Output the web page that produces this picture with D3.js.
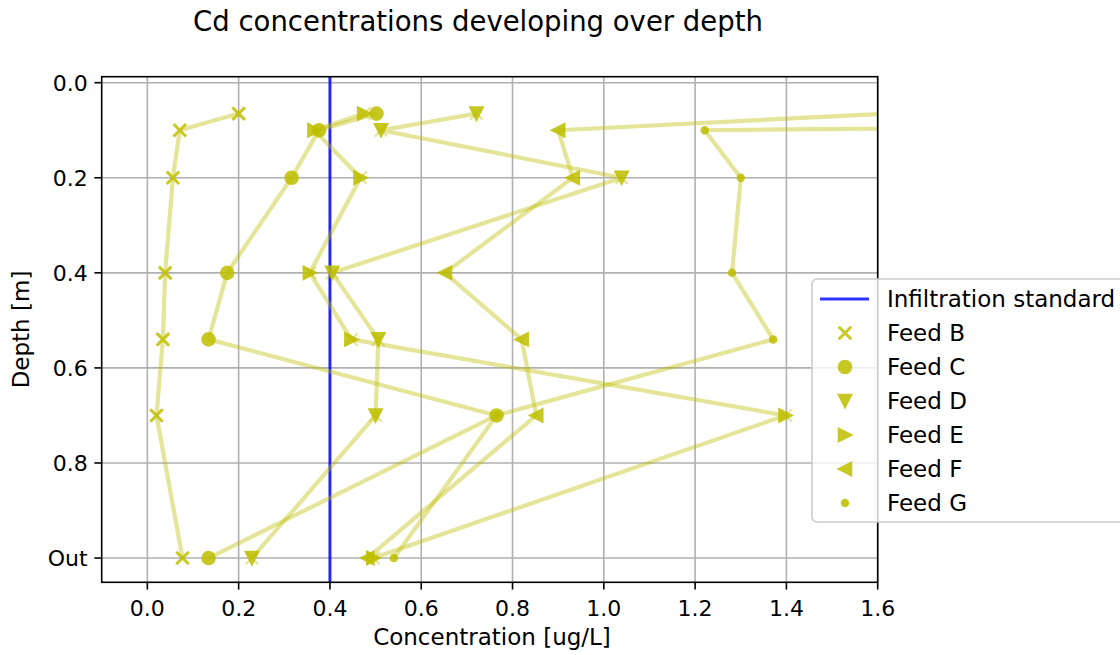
<!DOCTYPE html>
<html>
<head>
<meta charset="utf-8">
<script src="https://d3js.org/d3.v7.min.js"></script>
<style>
  body { margin: 0; background: #fff; }
  text { font-family: "DejaVu Sans", sans-serif; fill: #000; }
</style>
</head>
<body>
<div class="chart"></div>
<script>
// Cd concentration vs depth, one line per feed
var svgWidth = 1120;
var svgHeight = 655;

// depth of each sampling point (1.0 = outflow)
var depths = [0.065, 0.1, 0.2, 0.4, 0.54, 0.7, 1.0];
var feedNames = ["Feed B", "Feed C", "Feed D", "Feed E", "Feed F", "Feed G"];
var feedB = [0.200, 0.071, 0.056, 0.039, 0.034, 0.020, 0.077];
var feedC = [0.502, 0.376, 0.316, 0.175, 0.134, 0.765, 0.134];
var feedD = [0.721, 0.512, 1.039, 0.405, 0.506, 0.500, 0.229];
var feedE = [0.475, 0.366, 0.467, 0.356, 0.447, 1.398, 0.495];
var feedF = [1.620, 0.900, 0.932, 0.652, 0.820, 0.852, 0.482];
var feedG = [5.000, 1.221, 1.300, 1.281, 1.371, 0.765, 0.540];
var feedValues = [feedB, feedC, feedD, feedE, feedF, feedG];
var standard = 0.4;

var xTicks = [0, 0.2, 0.4, 0.6, 0.8, 1.0, 1.2, 1.4, 1.6];
var yTicks = [0, 0.2, 0.4, 0.6, 0.8, 1.0];
var yTickLabels = ["0.0", "0.2", "0.4", "0.6", "0.8", "Out"];

// plot box in pixels
var plotLeft = 101.7, plotRight = 877.7, plotTop = 76.7, plotBottom = 582.3;
var feedColor = "#bfbf00";
var ms = 6.25; // half marker size

var markerPaths = {
  "Feed B": "M-6.25,-6.25L6.25,6.25M-6.25,6.25L6.25,-6.25",
  "Feed C": d3.symbol().type(d3.symbolCircle).size(Math.PI * ms * ms)(),
  "Feed D": "M-6.25,-6.25L6.25,-6.25L0,6.25Z",
  "Feed E": "M-6.25,-6.25L6.25,0L-6.25,6.25Z",
  "Feed F": "M6.25,-6.25L-6.25,0L6.25,6.25Z",
  "Feed G": d3.symbol().type(d3.symbolCircle).size(Math.PI * 3.2 * 3.2)()
};
// D and E lines were drawn with x markers too
var lineHasX = {"Feed D": true, "Feed E": true};

var svg = d3.select(".chart")
  .append("svg")
  .attr("width", svgWidth)
  .attr("height", svgHeight);

var xScale = d3.scaleLinear().domain([-0.1, 1.6]).range([plotLeft, plotRight]);
var yScale = d3.scaleLinear().domain([-0.0126, 1.051]).range([plotTop, plotBottom]);

svg.append("defs").append("clipPath")
  .attr("id", "plotClip")
  .append("rect")
  .attr("x", plotLeft).attr("y", plotTop)
  .attr("width", plotRight - plotLeft).attr("height", plotBottom - plotTop);

// grid
var grid = svg.append("g");
grid.selectAll(".vgrid")
  .data(xTicks)
  .enter()
  .append("line")
  .attr("x1", function(d) { return xScale(d); })
  .attr("x2", function(d) { return xScale(d); })
  .attr("y1", plotTop).attr("y2", plotBottom)
  .attr("stroke", "#b0b0b0")
  .attr("stroke-width", 1.6);
grid.selectAll(".hgrid")
  .data(yTicks)
  .enter()
  .append("line")
  .attr("y1", function(d) { return yScale(d); })
  .attr("y2", function(d) { return yScale(d); })
  .attr("x1", plotLeft).attr("x2", plotRight)
  .attr("stroke", "#b0b0b0")
  .attr("stroke-width", 1.6);

var plot = svg.append("g").attr("clip-path", "url(#plotClip)");

// infiltration standard
plot.append("line")
  .attr("x1", xScale(standard)).attr("x2", xScale(standard))
  .attr("y1", plotTop).attr("y2", plotBottom)
  .attr("stroke", "#0000ff")
  .attr("stroke-opacity", 0.8)
  .attr("stroke-width", 3);

var line = d3.line()
  .x(function(d) { return xScale(d[0]); })
  .y(function(d) { return yScale(d[1]); });

feedNames.forEach(function(name, i) {
  var pts = feedValues[i].map(function(v, j) { return [v, depths[j]]; });
  plot.append("path")
    .attr("d", line(pts))
    .attr("fill", "none")
    .attr("stroke", feedColor)
    .attr("stroke-opacity", 0.4)
    .attr("stroke-width", 4.2)
    .attr("stroke-linejoin", "round");
  if (lineHasX[name]) {
    plot.selectAll(".lx" + i)
      .data(pts)
      .enter()
      .append("path")
      .attr("transform", function(d) { return "translate(" + xScale(d[0]) + "," + yScale(d[1]) + ")"; })
      .attr("d", markerPaths["Feed B"])
      .attr("fill", "none")
      .attr("stroke", feedColor)
      .attr("stroke-width", 2.1)
      .attr("opacity", 0.4);
  }
});

// markers on top
feedNames.forEach(function(name, i) {
  var pts = feedValues[i].map(function(v, j) { return [v, depths[j]]; });
  plot.selectAll(".m" + i)
    .data(pts)
    .enter()
    .append("path")
    .attr("transform", function(d) { return "translate(" + xScale(d[0]) + "," + yScale(d[1]) + ")"; })
    .attr("d", markerPaths[name])
    .attr("fill", name === "Feed B" ? "none" : feedColor)
    .attr("stroke", feedColor)
    .attr("stroke-width", name === "Feed B" ? 3 : 2.1)
    .attr("opacity", 0.85);
});

// spines
svg.append("rect")
  .attr("x", plotLeft).attr("y", plotTop)
  .attr("width", plotRight - plotLeft).attr("height", plotBottom - plotTop)
  .attr("fill", "none")
  .attr("stroke", "#000")
  .attr("stroke-width", 1.6);

// x ticks
svg.selectAll(".xtick")
  .data(xTicks)
  .enter()
  .append("line")
  .attr("x1", function(d) { return xScale(d); })
  .attr("x2", function(d) { return xScale(d); })
  .attr("y1", plotBottom).attr("y2", plotBottom + 7.3)
  .attr("stroke", "#000").attr("stroke-width", 1.6);
svg.selectAll(".xlabel")
  .data(xTicks)
  .enter()
  .append("text")
  .attr("x", function(d) { return xScale(d); })
  .attr("y", 616)
  .attr("text-anchor", "middle")
  .style("font-size", "22px")
  .text(function(d) { return d3.format(".1f")(d); });

// y ticks
svg.selectAll(".ytick")
  .data(yTicks)
  .enter()
  .append("line")
  .attr("y1", function(d) { return yScale(d); })
  .attr("y2", function(d) { return yScale(d); })
  .attr("x1", plotLeft - 7.3).attr("x2", plotLeft)
  .attr("stroke", "#000").attr("stroke-width", 1.6);
svg.selectAll(".ylabel")
  .data(yTicks)
  .enter()
  .append("text")
  .attr("x", plotLeft - 14)
  .attr("y", function(d) { return yScale(d) + 8; })
  .attr("text-anchor", "end")
  .style("font-size", "22px")
  .text(function(d, i) { return yTickLabels[i]; });

// axis titles
svg.append("text")
  .attr("x", 492)
  .attr("y", 645)
  .attr("text-anchor", "middle")
  .style("font-size", "23px")
  .text("Concentration [ug/L]");
svg.append("text")
  .attr("transform", "translate(29," + (plotTop + plotBottom) / 2 + ") rotate(-90)")
  .attr("text-anchor", "middle")
  .style("font-size", "23px")
  .text("Depth [m]");

svg.append("text")
  .attr("x", 478)
  .attr("y", 31)
  .attr("text-anchor", "middle")
  .style("font-size", "27.5px")
  .text("Cd concentrations developing over depth");

// legend
var legend = svg.append("g");
legend.append("rect")
  .attr("x", 812).attr("y", 279)
  .attr("width", 330).attr("height", 243)
  .attr("rx", 5)
  .attr("fill", "#fff").attr("fill-opacity", 0.8)
  .attr("stroke", "#cccccc").attr("stroke-width", 1.6);
legend.append("line")
  .attr("x1", 820).attr("x2", 869)
  .attr("y1", 299).attr("y2", 299)
  .attr("stroke", "#0000ff").attr("stroke-opacity", 0.8)
  .attr("stroke-width", 3);
legend.append("text")
  .attr("x", 887).attr("y", 307)
  .style("font-size", "23px")
  .text("Infiltration standard");
feedNames.forEach(function(name, i) {
  var ly = 333 + i * 34;
  legend.append("path")
    .attr("transform", "translate(845," + ly + ")")
    .attr("d", markerPaths[name])
    .attr("fill", name === "Feed B" ? "none" : feedColor)
    .attr("stroke", feedColor)
    .attr("stroke-width", name === "Feed B" ? 3 : 2.1)
    .attr("opacity", 0.85);
  legend.append("text")
    .attr("x", 887).attr("y", ly + 8)
    .style("font-size", "23px")
    .text(name);
});
</script>
</body>
</html>
